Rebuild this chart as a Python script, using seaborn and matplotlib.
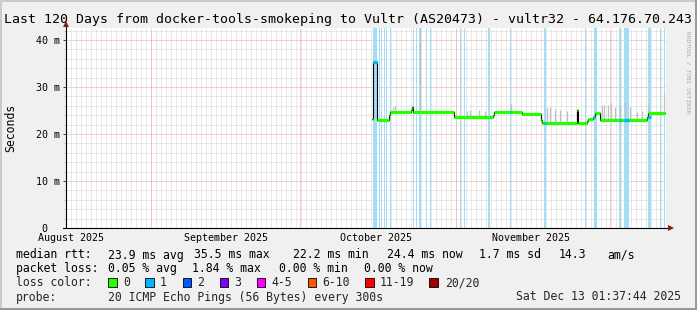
import numpy as np
import matplotlib
matplotlib.use("Agg")
import matplotlib.pyplot as plt
import seaborn as sns
from matplotlib.lines import Line2D
from matplotlib.patches import Rectangle

W, H = 697, 310

# ---------------- data ----------------
title = "Last 120 Days from docker-tools-smokeping to Vultr (AS20473) - vultr32 - 64.176.70.243"
y_label = "Seconds"
watermark = "RRDTOOL / TOBI OETIKER"

# x values are days since window start (2025-08-15 01:37:44), window = 120 days
window_days = 120.0
y_max_ms = 42.55

month_labels = ["August 2025", "September 2025", "October 2025", "November 2025"]
month_label_days = [0.93, 31.93, 61.93, 92.93]          # labels centred on the 16th
month_start_days = [16.95, 46.85, 77.95, 108.85]         # red major grid lines
y_ticks = [0, 10, 20, 30, 40]
y_tick_labels = [" 0", "10 m", "20 m", "30 m", "40 m"]

# median RTT (ms), step function
median_days = [61.1, 61.34, 61.46, 62.14, 64.6, 64.8, 69.0, 69.25, 69.45, 77.65,
               85.4, 85.6, 91.1, 94.9, 95.2, 102.15, 102.4, 104.1, 104.3, 105.4,
               105.7, 106.8, 116.25, 116.45, 119.8]
median_ms = [23.2, 33.0, 35.4, 23.0, 24.0, 24.6, 25.0, 25.8, 24.7, 23.6,
             24.0, 24.6, 24.3, 23.0, 22.3, 25.2, 22.3, 22.7, 23.1, 23.7,
             24.4, 23.0, 23.6, 24.4, 24.4]

# median segments drawn in the "1 lost" colour
loss_line_start = [61.46, 88.8, 95.6, 105.4, 110.5, 111.5, 116.4]
loss_line_end = [62.14, 89.0, 96.0, 105.7, 110.9, 112.5, 116.9]

# full-height packet loss markers
loss_bar_start = [61.46, 62.5, 63.0, 63.55, 64.0, 64.75, 69.4, 70.0, 70.66, 71.9,
                  72.75, 78.75, 79.6, 84.46, 88.8, 95.6, 103.7, 105.5, 110.5, 111.5,
                  116.4, 118.7, 119.5]
loss_bar_width = [0.78, 0.2, 0.2, 0.2, 0.2, 0.2, 0.2, 0.2, 0.34, 0.2,
                  0.2, 0.2, 0.2, 0.34, 0.2, 0.4, 0.3, 0.6, 0.4, 1.0,
                  0.5, 0.2, 0.3]

# smoke (ping spread above median)
smoke_days = [65.3, 65.7, 70.8, 80.2, 80.8, 82.6, 83.8, 89.0, 96.2, 96.7, 97.8,
              98.7, 100.1, 107.1, 107.5, 108.3, 108.9, 109.8, 110.8, 111.8,
              112.8, 114.1, 115.1, 116.4, 119.6]
smoke_top_ms = [25.8, 25.9, 45.0, 24.9, 25.0, 25.0, 24.8, 26.4, 25.6, 25.7, 25.3,
                25.0, 24.9, 26.2, 26.2, 26.2, 26.5, 25.7, 26.2, 26.9,
                25.7, 24.6, 24.8, 26.2, 28.7]

# legend rows (x pixel, text)
stats_row1 = [(16, "median rtt:"), (107.6, "23.9 ms avg"), (194, "35.5 ms max"),
              (293, "22.2 ms min"), (387, "24.4 ms now"), (479, "1.7 ms sd"),
              (559, "14.3"), (607, "am/s")]
stats_row2 = [(16, "packet loss:"), (107.6, "0.05 % avg"), (192.4, "1.84 % max"),
              (279, "0.00 % min"), (364.4, "0.00 % now")]
loss_color_labels = ["0", "1", "2", "3", "4-5", "6-10", "11-19", "20/20"]
loss_colors = ["#26ff00", "#00b8ff", "#0059ff", "#7e00ff", "#ff00ff", "#ff5500",
               "#ff0000", "#a10000"]
loss_square_x = [108, 145.3, 182.7, 219.6, 256.9, 307.6, 365.3, 429.3]
loss_label_x = [123, 160, 197, 234.2, 271.1, 321.8, 380, 444.9]
probe_text = "20 ICMP Echo Pings (56 Bytes) every 300s"
date_text = "Sat Dec 13 01:37:44 2025"

# ---------------- style ----------------
sns.set_style("white")
plt.rcParams['font.family'] = ['DejaVu Sans Mono']
FS_TITLE, FS_LEG, FS_AX = 9.55, 8.3, 7.2
GREEN, BLUE1 = loss_colors[0], loss_colors[1]
LOSS_BG = "#a4def6"
MINOR_C, MAJOR_C = "#d4d4d4", "#f0a0a0"


def fx(x):
    return x / W


def fy(y):
    return 1 - y / H


fig = plt.figure(figsize=(W / 100, H / 100), dpi=100, facecolor="#f0f0f0")
ax = fig.add_axes([fx(66), fy(228), 600 / W, 200 / H])
ax.set_facecolor("white")
ax.set_xlim(0, window_days)
ax.set_ylim(0, y_max_ms)

# grid (1px dotted lines)
grid_kw = dict(linestyles=(0, (1, 1)), lw=0.72)
minor_x = np.arange(0.932, window_days, 1.0)
ax.vlines(minor_x, 0, y_max_ms, colors=MINOR_C, zorder=0.5, **grid_kw)
minor_y = [v for v in range(2, 43, 2) if v % 10]
ax.hlines(minor_y, 0, window_days, colors=MINOR_C, zorder=0.5, **grid_kw)
ax.vlines(month_start_days, 0, y_max_ms, colors=MAJOR_C, zorder=0.6, **grid_kw)
ax.hlines(y_ticks[1:], 0, window_days, colors=MAJOR_C, zorder=0.6, **grid_kw)

# loss background bars
ax.bar(loss_bar_start, y_max_ms, width=loss_bar_width, align="edge", color=LOSS_BG,
       linewidth=0, zorder=1)

# smoke
md = np.array(median_days)
mv = np.array(median_ms)


def step_value(d):
    i = int(np.clip(np.searchsorted(md, d, side="right") - 1, 0, len(mv) - 1))
    return mv[i]


smoke_base = [step_value(d) for d in smoke_days]
ax.vlines(smoke_days, smoke_base, smoke_top_ms, colors="#c0c0c0", lw=0.9, zorder=2)

# median line (black step) + coloured plateaus
sns.lineplot(x=median_days, y=median_ms, drawstyle="steps-post", color="black",
             linewidth=0.8, ax=ax, zorder=3, estimator=None)
ax.hlines(mv[:-1], md[:-1], md[1:], colors=GREEN, lw=2.3, zorder=4)
for s, e in zip(loss_line_start, loss_line_end):
    ax.hlines(step_value(s + 1e-6), s, e, colors=BLUE1, lw=2.3, zorder=5)

# axes look
for sp in ax.spines.values():
    sp.set_visible(False)
ax.plot([0, 0], [0, 1 + 3 / 200], transform=ax.transAxes, color="black", lw=0.8,
        clip_on=False, zorder=10)
ax.plot([-3 / 600, 1 + 4 / 600], [0, 0], transform=ax.transAxes, color="black", lw=0.8,
        clip_on=False, zorder=10)
ax.plot([0.0008], [1 + 4 / 200], marker="^", ms=4.5, color="#8b1a1a", mew=0,
        transform=ax.transAxes, clip_on=False, zorder=11)
ax.plot([1 + 4.5 / 600], [0], marker=">", ms=4.5, color="#8b1a1a", mew=0,
        transform=ax.transAxes, clip_on=False, zorder=11)

ax.set_yticks(y_ticks, labels=y_tick_labels)
ax.set_yticks(minor_y, minor=True)
ax.tick_params(axis="y", which="major", direction="out", length=2.5, width=0.7,
               color="#444444", pad=19.3, labelsize=FS_AX, labelcolor="black", left=True)
ax.tick_params(axis="y", which="minor", direction="out", length=1.5, width=0.7,
               color="#bbbbbb", left=True)
for lab in ax.get_yticklabels():
    lab.set_horizontalalignment("left")
ax.set_xticks(month_label_days, labels=month_labels)
ax.tick_params(axis="x", which="major", length=0, pad=3.8, labelsize=FS_AX,
               labelcolor="black", bottom=True)
ax.set_xlabel("")
ax.set_ylabel("")

# texts
fig.text(0.5, fy(22.5), title, ha="center", va="baseline", fontsize=FS_TITLE, color="black")
fig.text(fx(11), fy(127.5), y_label, rotation=90, ha="center", va="center",
         fontsize=FS_LEG, color="black")
fig.text(fx(688.5), fy(31), watermark, rotation=270, ha="center", va="top",
         fontsize=4.4, color="#a8a8a8")

row_base = [258.5, 272, 286, 300.5]
for x, t in stats_row1:
    fig.text(fx(x), fy(row_base[0]), t, ha="left", va="baseline", fontsize=FS_LEG, color="black")
for x, t in stats_row2:
    fig.text(fx(x), fy(row_base[1]), t, ha="left", va="baseline", fontsize=FS_LEG, color="black")
fig.text(fx(16), fy(row_base[2]), "loss color:", ha="left", va="baseline", fontsize=FS_LEG)
for sx, lx, lab, c in zip(loss_square_x, loss_label_x, loss_color_labels, loss_colors):
    fig.add_artist(Rectangle((fx(sx), fy(286.5)), 8.5 / W, 8.5 / H, transform=fig.transFigure,
                             facecolor=c, edgecolor="black", lw=0.6))
    fig.text(fx(lx), fy(row_base[2]), lab, ha="left", va="baseline", fontsize=FS_LEG)
fig.text(fx(16), fy(row_base[3]), "probe:", ha="left", va="baseline", fontsize=FS_LEG)
fig.text(fx(107.6), fy(row_base[3]), probe_text, ha="left", va="baseline", fontsize=FS_LEG)
fig.text(fx(680.5), fy(row_base[3]), date_text, ha="right", va="baseline", fontsize=FS_LEG)

# 3D frame
fig.add_artist(Line2D([0, 1], [fy(1), fy(1)], transform=fig.transFigure, color="#cbcbcb", lw=1.44))
fig.add_artist(Line2D([fx(1), fx(1)], [0, 1], transform=fig.transFigure, color="#cbcbcb", lw=1.44))
fig.add_artist(Line2D([0, 1], [fy(H - 1), fy(H - 1)], transform=fig.transFigure, color="#999999", lw=1.44))
fig.add_artist(Line2D([fx(W - 1), fx(W - 1)], [0, 1], transform=fig.transFigure, color="#999999", lw=1.44))

fig.savefig("out.png", dpi=100, facecolor=fig.get_facecolor())
